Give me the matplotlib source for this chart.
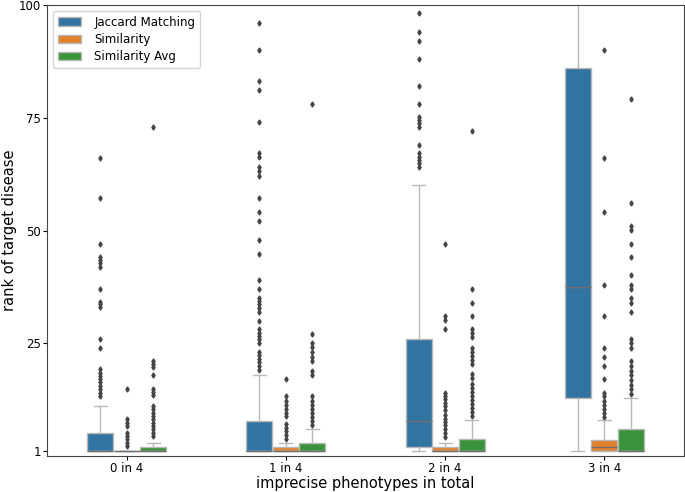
import matplotlib
matplotlib.use("Agg")
import matplotlib.pyplot as plt
from matplotlib.patches import Patch

categories = ["0 in 4", "1 in 4", "2 in 4", "3 in 4"]
methods = ["Jaccard Matching", "Similarity", "Similarity Avg"]
colors = ["#3274a1", "#e1812c", "#3a923a"]
yticks = [1, 25, 50, 75, 100]

# box statistics per method, per category: (whislo, q1, med, q3, whishi)
jaccard_stats = [(1, 1, 1, 5.0, 11.1), (1, 1, 1, 7.8, 18.0), (1, 1.9, 7.8, 25.9, 60.1), (1, 12.9, 37.5, 86.0, 180)]
similarity_stats = [(1, 1, 1, 1, 1), (1, 1, 1, 1.9, 2.9), (1, 1, 1, 1.9, 2.9), (1, 1, 2.1, 3.5, 8.0)]
simavg_stats = [(1, 1, 1, 1.9, 2.9), (1, 1, 1, 2.9, 5.9), (1, 1, 1, 3.8, 8.0), (1, 1, 1, 5.9, 12.9)]

jaccard_fliers = [
    [66.0, 57.1, 47.0, 44.2, 43.5, 42.7, 42.0, 37.0, 34.1, 33.6, 33.0, 26.0, 23.9,
     19.2, 18.5, 17.7, 17.0, 16.3, 15.5, 14.8, 14.0, 13.3],
    [96.1, 90.0, 83.1, 81.2, 74.1, 67.1, 66.2, 64.1, 63.1, 62.1, 57.1, 54.1, 52.1,
     48.0, 44.9, 39.0, 37.0, 35.1, 34.4, 33.6, 32.9, 32.0, 30.0, 28.1, 27.3, 26.6,
     25.9, 25.0, 23.1, 22.3, 21.6, 20.8, 20.0, 19.1],
    [98.2, 94.1, 92.1, 88.1, 82.0, 78.0, 75.2, 74.5, 73.8, 73.0, 69.0, 67.1, 66.4,
     65.6, 64.9, 64.0],
    [],
]
similarity_fliers = [
    [14.9, 8.1, 7.4, 6.7, 5.2, 4.4, 3.7, 2.9, 2.2],
    [17.0, 13.2, 12.3, 11.4, 10.5, 9.6, 8.9, 7.1, 6.3, 5.6, 4.7, 3.8],
    [47.0, 31.0, 30.2, 28.1, 14.0, 13.3, 12.6, 11.8, 11.1, 10.2, 9.0, 8.3, 7.5, 6.8,
     5.9, 5.0, 4.1],
    [90.0, 66.1, 54.1, 38.0, 31.0, 24.0, 22.0, 20.0, 17.0, 14.0, 13.2, 12.3, 11.4,
     10.5, 9.6, 8.7],
]
simavg_fliers = [
    [73.0, 21.1, 20.4, 19.7, 17.9, 14.9, 14.2, 13.5, 11.1, 10.4, 9.6, 8.9, 8.1, 7.4,
     6.7, 5.9, 5.2, 4.4],
    [78.0, 27.0, 25.0, 24.1, 23.1, 22.0, 21.0, 18.9, 17.9, 13.2, 12.3, 11.4, 10.5,
     9.6, 8.7, 7.8, 6.9],
    [72.1, 37.0, 34.0, 31.0, 28.1, 27.2, 26.3, 23.9, 23.1, 22.2, 21.3, 20.4, 18.2,
     17.3, 16.0, 15.1, 14.2, 13.3, 12.4, 11.5, 10.6, 9.8, 8.9],
    [79.1, 56.0, 51.1, 50.1, 47.0, 44.1, 40.1, 38.0, 37.1, 35.0, 34.0, 31.9, 26.0,
     25.0, 23.9, 21.0, 20.0, 18.9, 17.9, 16.9, 15.8, 14.8, 13.7],
]

all_stats = [jaccard_stats, similarity_stats, simavg_stats]
all_fliers = [jaccard_fliers, similarity_fliers, simavg_fliers]

fig = plt.figure(figsize=(6.85, 4.92), dpi=100)
ax = fig.add_axes([0.0686, 0.0732, 0.9299, 0.9166])

box_w = 1 / 6
line_c = "#b8b8b8"
for j, (stats, fliers, col) in enumerate(zip(all_stats, all_fliers, colors)):
    bxp_stats = []
    for (lo, q1, med, q3, hi), fl in zip(stats, fliers):
        bxp_stats.append(dict(whislo=lo, q1=q1, med=med, q3=q3, whishi=hi, fliers=fl))
    pos = [i + (j - 1) * box_w for i in range(len(categories))]
    ax.bxp(bxp_stats, positions=pos, widths=box_w * 0.98, patch_artist=True,
           showfliers=True, manage_ticks=False,
           boxprops=dict(facecolor=col, edgecolor=line_c, linewidth=1.0),
           whiskerprops=dict(color=line_c, linewidth=1.0),
           capprops=dict(color=line_c, linewidth=1.0),
           medianprops=dict(color="#707070", linewidth=1.0),
           flierprops=dict(marker="d", markersize=2.6, markerfacecolor="#454545",
                           markeredgecolor="#454545", linestyle="none"))

ax.set_xlim(-0.5, len(categories) - 0.5)
ax.set_ylim(0, 100)
ax.set_xticks(range(len(categories)))
ax.set_xticklabels(categories)
ax.set_yticks(yticks)
ax.tick_params(labelsize=8.5, length=3, width=0.8, pad=1.5)
for s in ax.spines.values():
    s.set_color("#444444")
ax.set_xlabel("imprecise phenotypes in total", fontsize=10.5, labelpad=0.5)
ax.set_ylabel("rank of target disease", fontsize=10.5, labelpad=1)

handles = [Patch(facecolor=c, edgecolor=line_c, label=m) for m, c in zip(methods, colors)]
ax.legend(handles=handles, loc="upper left", fontsize=8.5, labelspacing=0.35,
          handlelength=2.0, handletextpad=1.1, borderaxespad=0.5)

fig.savefig("out.png", dpi=100)
